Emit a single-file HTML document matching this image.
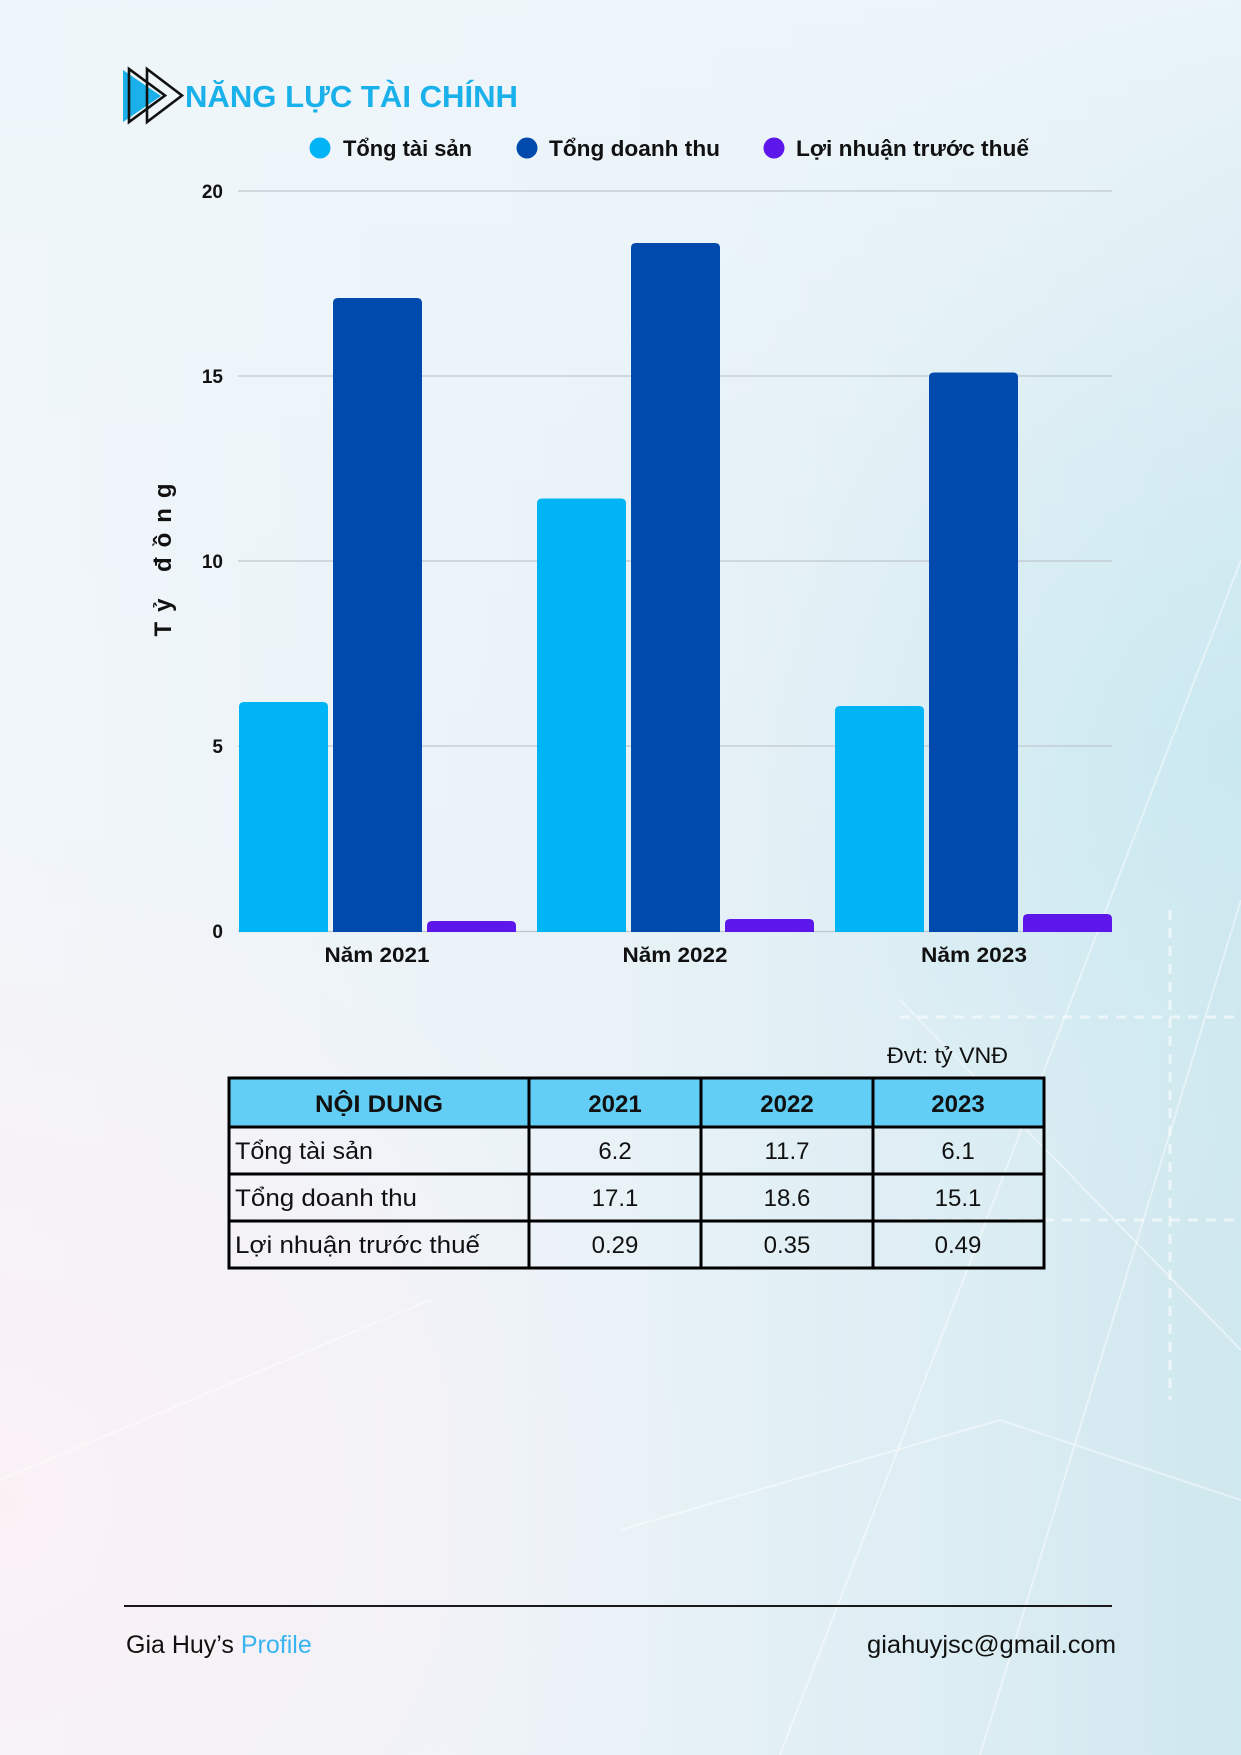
<!DOCTYPE html>
<html>
<head>
<meta charset="utf-8">
<style>
  html,body{margin:0;padding:0;width:1241px;height:1755px;overflow:hidden;background:#eef5f9;}
  svg{display:block;}
  text{font-family:"Liberation Sans","DejaVu Sans",sans-serif;}
</style>
</head>
<body>
<svg width="1241" height="1755" viewBox="0 0 1241 1755" xmlns="http://www.w3.org/2000/svg">
  <defs>
    <linearGradient id="bgH" x1="0" y1="0" x2="1" y2="0">
      <stop offset="0" stop-color="#f1f6fa"/>
      <stop offset="0.5" stop-color="#e8f2f7"/>
      <stop offset="0.8" stop-color="#dbedf3"/>
      <stop offset="1" stop-color="#cfe7ee"/>
    </linearGradient>
    <linearGradient id="bgTop" x1="0" y1="0" x2="0" y2="1">
      <stop offset="0" stop-color="#eef6fb" stop-opacity="0.85"/>
      <stop offset="0.25" stop-color="#eef6fb" stop-opacity="0.3"/>
      <stop offset="0.5" stop-color="#eef6fb" stop-opacity="0"/>
    </linearGradient>
    <radialGradient id="pink" cx="0" cy="1500" r="700" gradientUnits="userSpaceOnUse">
      <stop offset="0" stop-color="#fbf1f5" stop-opacity="0.95"/>
      <stop offset="0.6" stop-color="#f8f2f6" stop-opacity="0.6"/>
      <stop offset="1" stop-color="#f5f3f6" stop-opacity="0"/>
    </radialGradient>
    <radialGradient id="cyan" cx="1241" cy="750" r="500" gradientUnits="userSpaceOnUse">
      <stop offset="0" stop-color="#c8e8f1" stop-opacity="0.8"/>
      <stop offset="1" stop-color="#d5edf4" stop-opacity="0"/>
    </radialGradient>
  </defs>

  <!-- background -->
  <rect x="0" y="0" width="1241" height="1755" fill="url(#bgH)"/>
  <rect x="0" y="0" width="1241" height="1755" fill="url(#bgTop)"/>
  <rect x="0" y="0" width="1241" height="1755" fill="url(#cyan)"/>
  <rect x="0" y="0" width="1241" height="1755" fill="url(#pink)"/>
  <!-- faint background lines -->
  <g stroke="#ffffff" stroke-opacity="0.45" stroke-width="2" fill="none">
    <line x1="1241" y1="560" x2="780" y2="1755"/>
    <line x1="1241" y1="900" x2="980" y2="1755"/>
    <line x1="900" y1="1000" x2="1241" y2="1350"/>
    <line x1="620" y1="1530" x2="1000" y2="1420"/>
    <line x1="1000" y1="1420" x2="1241" y2="1500"/>
    <line x1="0" y1="1480" x2="430" y2="1300"/>
  </g>
  <g stroke="#ffffff" stroke-opacity="0.55" stroke-width="3" stroke-dasharray="10 8" fill="none">
    <line x1="900" y1="1017" x2="1241" y2="1017"/>
    <line x1="1170" y1="910" x2="1170" y2="1400"/>
    <line x1="900" y1="1220" x2="1241" y2="1220"/>
  </g>

  <!-- title icon -->
  <polygon points="123,70 123,122 161,96" fill="#1ab0ea"/>
  <polygon points="129,69 129,122 165,95.5" fill="none" stroke="#111" stroke-width="2.6" stroke-linejoin="miter"/>
  <polygon points="147,69 147,122 182,95.5" fill="none" stroke="#111" stroke-width="2.6" stroke-linejoin="miter"/>
  <!-- title -->
  <text x="185" y="107" font-size="31" font-weight="bold" fill="#1ab0ea" textLength="333" lengthAdjust="spacingAndGlyphs">NĂNG LỰC TÀI CHÍNH</text>

  <!-- legend -->
  <circle cx="320" cy="148" r="10.5" fill="#00b4f5"/>
  <text x="343" y="156" font-size="22" font-weight="bold" fill="#111" textLength="129" lengthAdjust="spacingAndGlyphs">Tổng tài sản</text>
  <circle cx="527" cy="148" r="10.5" fill="#004aad"/>
  <text x="549" y="156" font-size="22" font-weight="bold" fill="#111" textLength="171" lengthAdjust="spacingAndGlyphs">Tổng doanh thu</text>
  <circle cx="774" cy="148" r="10.5" fill="#5e17eb"/>
  <text x="796" y="156" font-size="22" font-weight="bold" fill="#111" textLength="233" lengthAdjust="spacingAndGlyphs">Lợi nhuận trước thuế</text>

  <!-- gridlines -->
  <g stroke="#bfc8cd" stroke-width="1.2">
    <line x1="238" y1="191" x2="1112" y2="191"/>
    <line x1="238" y1="376" x2="1112" y2="376"/>
    <line x1="238" y1="561" x2="1112" y2="561"/>
    <line x1="238" y1="746" x2="1112" y2="746"/>
    <line x1="238" y1="931.5" x2="1112" y2="931.5"/>
  </g>

  <!-- y tick labels -->
  <g font-size="19" font-weight="bold" fill="#111" text-anchor="end">
    <text x="223" y="198">20</text>
    <text x="223" y="383">15</text>
    <text x="223" y="568">10</text>
    <text x="223" y="753">5</text>
    <text x="223" y="938">0</text>
  </g>

  <!-- y axis title -->
  <text transform="translate(171,560) rotate(-90)" text-anchor="middle" font-size="24" font-weight="bold" fill="#111" textLength="153" lengthAdjust="spacing">Tỷ đồng</text>

  <!-- bars -->
  <!-- 2021 -->
  <path d="M239,932 V707 Q239,702 244,702 H323 Q328,702 328,707 V932 Z" fill="#00b4f5"/>
  <path d="M333,932 V303 Q333,298 338,298 H417 Q422,298 422,303 V932 Z" fill="#004aad"/>
  <path d="M427,932 V926 Q427,921 432,921 H511 Q516,921 516,926 V932 Z" fill="#5e17eb"/>
  <!-- 2022 -->
  <path d="M537,932 V503.5 Q537,498.5 542,498.5 H621 Q626,498.5 626,503.5 V932 Z" fill="#00b4f5"/>
  <path d="M631,932 V248 Q631,243 636,243 H715 Q720,243 720,248 V932 Z" fill="#004aad"/>
  <path d="M725,932 V924 Q725,919 730,919 H809 Q814,919 814,924 V932 Z" fill="#5e17eb"/>
  <!-- 2023 -->
  <path d="M835,932 V711 Q835,706 840,706 H919 Q924,706 924,711 V932 Z" fill="#00b4f5"/>
  <path d="M929,932 V377.5 Q929,372.5 934,372.5 H1013 Q1018,372.5 1018,377.5 V932 Z" fill="#004aad"/>
  <path d="M1023,932 V919 Q1023,914 1028,914 H1107 Q1112,914 1112,919 V932 Z" fill="#5e17eb"/>

  <!-- x labels -->
  <g font-size="21" font-weight="bold" fill="#111" text-anchor="middle">
    <text x="377" y="962" textLength="105" lengthAdjust="spacingAndGlyphs">Năm 2021</text>
    <text x="675" y="962" textLength="105" lengthAdjust="spacingAndGlyphs">Năm 2022</text>
    <text x="974" y="962" textLength="106" lengthAdjust="spacingAndGlyphs">Năm 2023</text>
  </g>

  <!-- unit -->
  <text x="1008" y="1063" font-size="22" fill="#111" text-anchor="end" textLength="121" lengthAdjust="spacingAndGlyphs">Đvt: tỷ VNĐ</text>

  <!-- table -->
  <rect x="229" y="1078" width="815" height="49" fill="#62cdf5"/>
  <g stroke="#000" stroke-width="3" fill="none">
    <rect x="229" y="1078" width="815" height="190"/>
    <line x1="229" y1="1127" x2="1044" y2="1127"/>
    <line x1="229" y1="1174" x2="1044" y2="1174"/>
    <line x1="229" y1="1221" x2="1044" y2="1221"/>
    <line x1="529" y1="1078" x2="529" y2="1268"/>
    <line x1="701" y1="1078" x2="701" y2="1268"/>
    <line x1="873" y1="1078" x2="873" y2="1268"/>
  </g>
  <g font-size="24" font-weight="bold" fill="#111" text-anchor="middle">
    <text x="379" y="1112" textLength="128" lengthAdjust="spacingAndGlyphs">NỘI DUNG</text>
    <text x="615" y="1112">2021</text>
    <text x="787" y="1112">2022</text>
    <text x="958" y="1112">2023</text>
  </g>
  <g font-size="24" fill="#111">
    <text x="235" y="1159" textLength="138" lengthAdjust="spacingAndGlyphs">Tổng tài sản</text>
    <text x="235" y="1206" textLength="182" lengthAdjust="spacingAndGlyphs">Tổng doanh thu</text>
    <text x="235" y="1253" textLength="245" lengthAdjust="spacingAndGlyphs">Lợi nhuận trước thuế</text>
  </g>
  <g font-size="24" fill="#111" text-anchor="middle">
    <text x="615" y="1159">6.2</text>
    <text x="787" y="1159">11.7</text>
    <text x="958" y="1159">6.1</text>
    <text x="615" y="1206">17.1</text>
    <text x="787" y="1206">18.6</text>
    <text x="958" y="1206">15.1</text>
    <text x="615" y="1253">0.29</text>
    <text x="787" y="1253">0.35</text>
    <text x="958" y="1253">0.49</text>
  </g>

  <!-- footer -->
  <line x1="124" y1="1606" x2="1112" y2="1606" stroke="#1a1a1a" stroke-width="2"/>
  <text x="126" y="1653" font-size="25" fill="#111">Gia Huy’s <tspan fill="#3ab4f0">Profile</tspan></text>
  <text x="1116" y="1653" font-size="25" fill="#111" text-anchor="end" textLength="249" lengthAdjust="spacingAndGlyphs">giahuyjsc@gmail.com</text>
</svg>
</body>
</html>
